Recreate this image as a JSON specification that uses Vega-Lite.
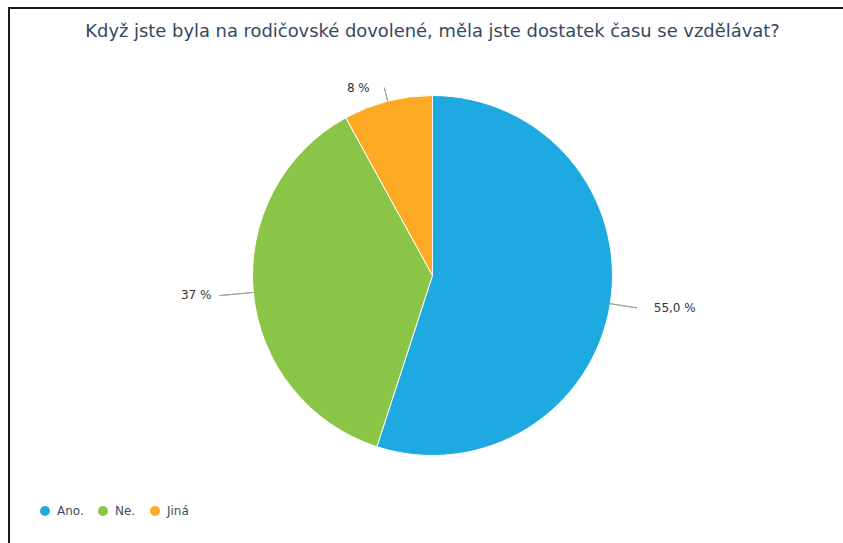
{
  "$schema": "https://vega.github.io/schema/vega-lite/v6.json",
  "width": 847,
  "height": 535,
  "autosize": {"type": "none"},
  "padding": {"left": 9, "top": 8, "right": -13, "bottom": 0},
  "background": "white",
  "view": {"stroke": "#1a1a1a", "strokeWidth": 2, "strokeDash": [847, 1382, 535], "fill": "white"},
  "config": {
    "font": "DejaVu Sans"
  },
  "title": {
    "text": "Když jste byla na rodičovské dovolené, měla jste dostatek času se vzdělávat?",
    "font": "DejaVu Sans",
    "fontSize": 17.9,
    "fontWeight": "normal",
    "color": "#34495e",
    "anchor": "middle",
    "frame": "group",
    "baseline": "bottom",
    "offset": -51
  },
  "data": {
    "values": [
      {"cat": "Ano.", "value": 55, "label": "55,0 %", "n": 1},
      {"cat": "Ne.", "value": 37, "label": "37 %", "n": 2},
      {"cat": "Jiná", "value": 8, "label": "8 %", "n": 3}
    ]
  },
  "layer": [
    {
      "mark": {"type": "arc", "outerRadius": 180, "stroke": "white", "strokeWidth": 1},
      "encoding": {
        "theta": {"field": "value", "type": "quantitative", "stack": true},
        "order": {"field": "n", "type": "quantitative"},
        "color": {
          "field": "cat",
          "type": "nominal",
          "sort": ["Ano.", "Ne.", "Jiná"],
          "scale": {"domain": ["Ano.", "Ne.", "Jiná"], "range": ["#1fa9e1", "#8bc548", "#fca923"]},
          "legend": {
            "title": null,
            "orient": "none",
            "direction": "horizontal",
            "legendX": 30,
            "legendY": 497,
            "symbolType": "circle",
            "symbolSize": 100,
            "symbolStrokeWidth": 0,
            "labelFont": "DejaVu Sans",
            "labelFontSize": 12,
            "labelColor": "#3b4b5f",
            "labelOffset": 6,
            "columnPadding": 13,
            "padding": 0
          }
        }
      }
    },
    {
      "mark": {"type": "arc", "innerRadius": 180, "outerRadius": 207, "padAngle": 3, "thetaOffset": 1.9792, "fill": null, "stroke": "#a0a0a0", "strokeWidth": 1},
      "encoding": {
        "theta": {"field": "value", "type": "quantitative", "stack": true},
        "order": {"field": "n", "type": "quantitative"},
        "detail": {"field": "cat", "type": "nominal"},
        "opacity": {"condition": {"test": "datum.cat === 'Jiná'", "value": 1}, "value": 0}
      }
    },
    {
      "mark": {"type": "arc", "innerRadius": 180, "outerRadius": 214, "padAngle": 3, "fill": null, "stroke": "#a0a0a0", "strokeWidth": 1},
      "encoding": {
        "theta": {"field": "value", "type": "quantitative", "stack": true},
        "order": {"field": "n", "type": "quantitative"},
        "detail": {"field": "cat", "type": "nominal"},
        "opacity": {"condition": {"test": "datum.cat === 'Ne.'", "value": 1}, "value": 0}
      }
    },
    {
      "mark": {"type": "arc", "innerRadius": 180, "outerRadius": 194, "padAngle": 3, "fill": null, "stroke": "#a0a0a0", "strokeWidth": 1},
      "encoding": {
        "theta": {"field": "value", "type": "quantitative", "stack": true},
        "order": {"field": "n", "type": "quantitative"},
        "detail": {"field": "cat", "type": "nominal"},
        "opacity": {"condition": {"test": "datum.cat === 'Jiná'", "value": 1}, "value": 0}
      }
    },
    {
      "mark": {"type": "text", "radius": 224, "align": "left", "baseline": "middle", "dy": -3, "fontSize": 12, "color": "#333333", "font": "DejaVu Sans"},
      "encoding": {
        "theta": {"field": "value", "type": "quantitative", "stack": true},
        "order": {"field": "n", "type": "quantitative"},
        "detail": {"field": "cat", "type": "nominal"},
        "text": {"field": "label", "type": "nominal"},
        "opacity": {"condition": {"test": "datum.cat === 'Ano.'", "value": 1}, "value": 0}
      }
    },
    {
      "mark": {"type": "text", "radius": 222, "align": "right", "baseline": "middle", "dy": -1, "fontSize": 12, "color": "#333333", "font": "DejaVu Sans"},
      "encoding": {
        "theta": {"field": "value", "type": "quantitative", "stack": true},
        "order": {"field": "n", "type": "quantitative"},
        "detail": {"field": "cat", "type": "nominal"},
        "text": {"field": "label", "type": "nominal"},
        "opacity": {"condition": {"test": "datum.cat === 'Ne.'", "value": 1}, "value": 0}
      }
    },
    {
      "mark": {"type": "text", "radius": 192, "align": "right", "baseline": "middle", "dx": -15, "dy": -2, "fontSize": 12, "color": "#333333", "font": "DejaVu Sans"},
      "encoding": {
        "theta": {"field": "value", "type": "quantitative", "stack": true},
        "order": {"field": "n", "type": "quantitative"},
        "detail": {"field": "cat", "type": "nominal"},
        "text": {"field": "label", "type": "nominal"},
        "opacity": {"condition": {"test": "datum.cat === 'Jiná'", "value": 1}, "value": 0}
      }
    }
  ]
}
